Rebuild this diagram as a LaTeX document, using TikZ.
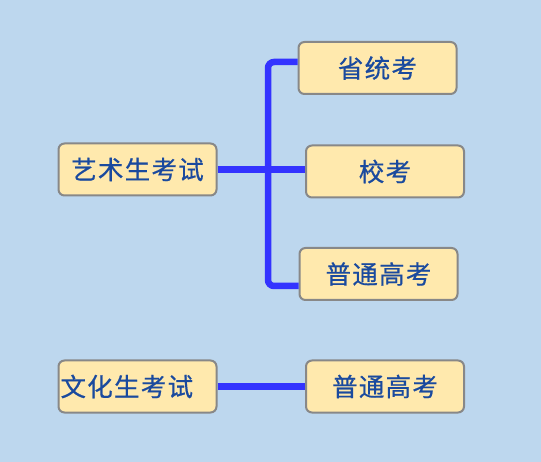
\documentclass[tikz,border=0pt]{standalone}
\usepackage{fontspec}
\newfontfamily\cjk[LetterSpace=5,FakeBold=0.6]{Noto Sans CJK SC}
\definecolor{bgblue}{HTML}{BDD7EE}
\definecolor{boxfill}{HTML}{FFE9AD}
\definecolor{boxline}{HTML}{888888}
\definecolor{txtblue}{HTML}{1A4A9E}
\definecolor{linkblue}{HTML}{3333FF}
\begin{document}
\begin{tikzpicture}[x=1pt,y=-1pt,exam/.style={shape=rectangle,rounded corners=6pt,draw=boxline,line width=2pt,fill=boxfill,text=txtblue,minimum width=158pt,minimum height=52pt,inner sep=0pt,font=\cjk\fontsize{25.5}{26}\selectfont},examL/.style={exam,text width=154pt,align=left},link/.style={draw=linkblue,line width=6.5pt,rounded corners=6pt}]
\def\bx{268};

\fill[bgblue] (0,0) rectangle (541,462);
\useasboundingbox (0,0) rectangle (541,462);

\node[exam] (ys) at (137.5,169.5) {艺术生考试};
\node[exam] (sk) at (377.5,68) {省统考};
\node[exam] (xk) at (385,171.5) {校考};
\node[exam] (pt) at (378.5,274) {普通高考};
\coordinate (bar) at (\bx,169.5);
\draw[link] (ys.east) -- (ys.east -| xk.west);
\draw[link] ([yshift=6]sk.west) -| (bar) |- ([yshift=-12]pt.west);

\node[examL] (wh) at (137.5,386.5) {文化生考试};
\node[exam] (pt2) at (385,386.5) {普通高考};
\draw[link] (wh.east) -- (pt2.west);
\end{tikzpicture}
\end{document}
